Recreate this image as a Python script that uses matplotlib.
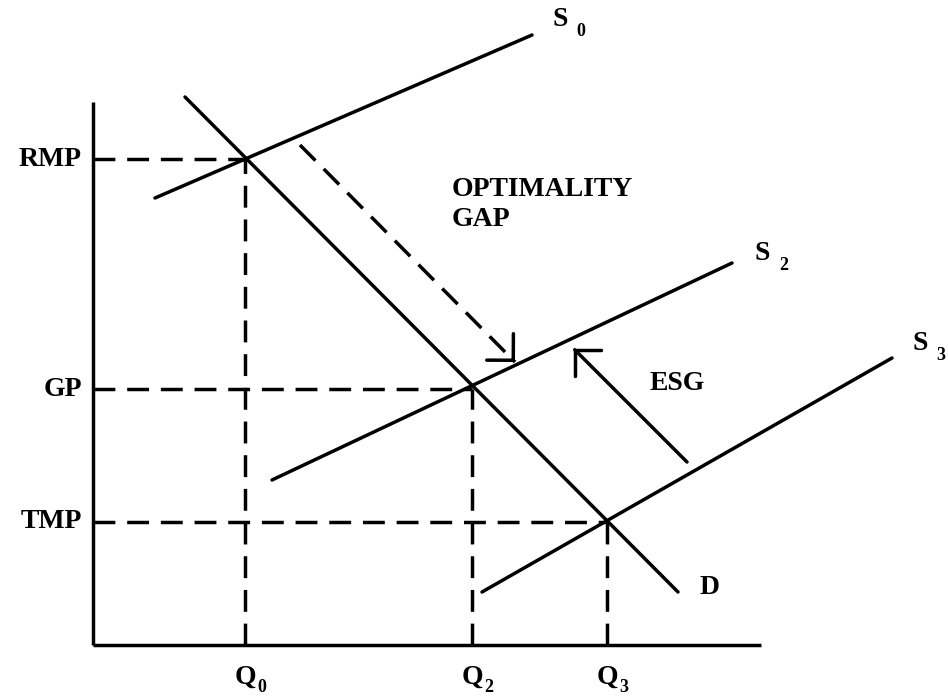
import matplotlib
matplotlib.use('Agg')
import matplotlib.pyplot as plt

# quantity (x) and price (y) in chart units, origin at the axes corner
q_axis_end = 668
p_axis_top = 543

q_subs = ['0', '2', '3']
q_values = [152, 379, 514]
p_labels = ['RMP', 'GP', 'TMP']
p_values = [486, 256, 123]

# curve end points
s0_q = [62, 439]
s0_p = [447, 610]
s2_q = [179, 639]
s2_p = [165, 382]
s3_q = [389, 799]
s3_p = [53, 287]
d_q = [92, 585]
d_p = [548, 53]

# arrows (tail, tip)
gap_q = [207, 422]
gap_p = [500, 283]
esg_q = [594, 480]
esg_p = [183, 297]

plt.rcParams['font.family'] = 'Liberation Serif'
plt.rcParams['font.weight'] = 'bold'

LW = 2.5
DASH = (0, (6.3, 3.4))
BIG = 20
SMALL = 13

fig = plt.figure(figsize=(9.48, 6.96), dpi=100)
ax = fig.add_axes([0, 0, 1, 1])
ax.set_xlim(-93, 855)
ax.set_ylim(-51, 645)
ax.axis('off')

# axes
ax.plot([0, 0], [0, p_axis_top], color='black', lw=LW, solid_capstyle='butt')
ax.plot([0, q_axis_end], [0, 0], color='black', lw=LW, solid_capstyle='butt')

# curves
for qs, ps in [(s0_q, s0_p), (s2_q, s2_p), (s3_q, s3_p), (d_q, d_p)]:
  ax.plot(qs, ps, color='black', lw=LW, solid_capstyle='round')

# equilibrium guides
for q, p in zip(q_values, p_values):
  ax.plot([0, q], [p, p], color='black', lw=LW, linestyle=DASH)
  ax.plot([q, q], [0, p], color='black', lw=LW, linestyle=DASH)

def sublabel(x, y, main, sub, gap, drop, ha='left', offset=(0, 0)):
  t = ax.annotate(main, xy=(x, y), xytext=offset, textcoords='offset pixels',
                  ha=ha, va='center', fontsize=BIG, fontweight='bold')
  ax.annotate(sub, xy=(1, 0), xycoords=t, xytext=(gap, -drop),
              textcoords='offset pixels', ha='left', va='bottom',
              fontsize=SMALL, fontweight='bold')

for q, s in zip(q_values, q_subs):
  sublabel(q, 0, 'Q', s, 1, 6, ha='right', offset=(11, -32))

for p, lab in zip(p_values, p_labels):
  ax.annotate(lab, xy=(0, p), xytext=(-11, 0), textcoords='offset pixels',
              ha='right', va='center', fontsize=BIG, fontweight='bold')

sublabel(s0_q[1], s0_p[1], 'S', '0', 9, 8, offset=(20, 16))
sublabel(s2_q[1], s2_p[1], 'S', '2', 9, 8, offset=(23, 10))
sublabel(s3_q[1], s3_p[1], 'S', '3', 8, 8, offset=(21, 14))
ax.annotate('D', xy=(d_q[1], d_p[1]), xytext=(22, 5), textcoords='offset pixels',
            ha='left', va='center', fontsize=BIG, fontweight='bold')

# optimality gap arrow (dashed shaft, solid open head)
ax.plot(gap_q, gap_p, color='black', lw=LW, linestyle=DASH)
head = '->,head_length=1.35,head_width=1.35'
tip = (gap_q[1], gap_p[1])
near = (gap_q[1] + (gap_q[0] - gap_q[1]) * 0.01, gap_p[1] + (gap_p[0] - gap_p[1]) * 0.01)
ax.annotate('', xy=tip, xytext=near,
            arrowprops=dict(arrowstyle=head, lw=LW, color='black',
                            shrinkA=0, shrinkB=0, mutation_scale=10))

# ESG arrow
ax.annotate('', xy=(esg_q[1], esg_p[1]), xytext=(esg_q[0], esg_p[0]),
            arrowprops=dict(arrowstyle=head, lw=LW, color='black',
                            shrinkA=0, shrinkB=0, mutation_scale=10))

ax.text(359, 468, 'OPTIMALITY\nGAP', ha='left', va='top', fontsize=BIG,
        fontweight='bold', linespacing=1.25)
ax.text(557, 262, 'ESG', ha='left', va='center', fontsize=BIG, fontweight='bold')

fig.savefig('out.png', dpi=100)
